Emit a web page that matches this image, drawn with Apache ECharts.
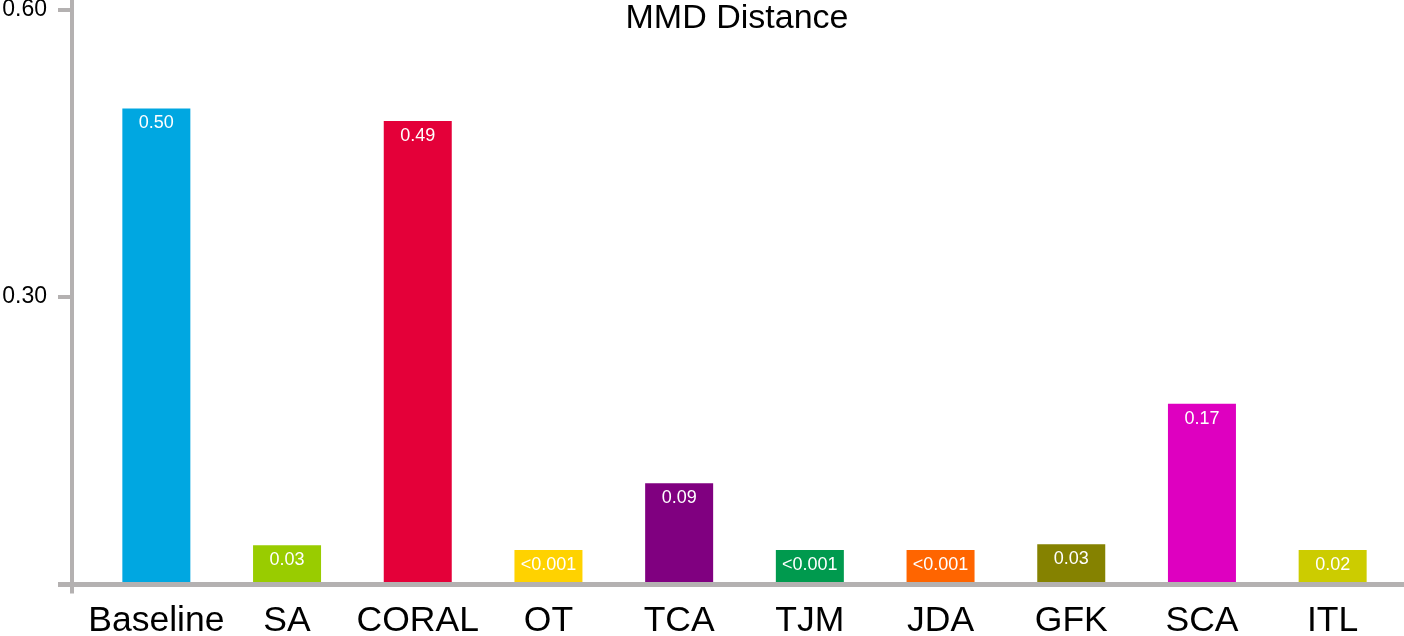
<!DOCTYPE html>
<html><head><meta charset="utf-8">
<script src="https://cdn.jsdelivr.net/npm/echarts@6/dist/echarts.min.js"></script>
<style>html,body{margin:0;padding:0;background:#fff;overflow:hidden}#c{width:1404px;height:636px}</style>
</head><body><div id="c"></div>
<script>
const categories = ['Baseline','SA','CORAL','OT','TCA','TJM','JDA','GFK','SCA','ITL'];
const values = [0.497, 0.040, 0.484, 0.035, 0.105, 0.035, 0.035, 0.041, 0.188, 0.035];
const labels = ['0.50','0.03','0.49','<0.001','0.09','<0.001','<0.001','0.03','0.17','0.02'];
const colors = ['#00a7e1','#99cc00','#e40039','#ffd200','#800080','#009a4e','#ff6500','#858200','#de00c0','#cccc00'];
const yTicks = [0, 0.3, 0.6];

const FONT = '"Liberation Sans", Arial, Helvetica, sans-serif';
const AXIS = '#b4b1b1';
const chart = echarts.init(document.getElementById('c'));
chart.setOption({
  animation: false,
  textStyle: {fontFamily: FONT},
  title: {text: 'MMD Distance', left: 732, textAlign: 'center', top: -3,
    textStyle: {fontFamily: FONT, fontSize: 34, fontWeight: 'normal', color: '#000'}},
  grid: {left: 91, top: 10, width: 1307, height: 573.5, containLabel: false, outerBoundsMode: 'none'},
  xAxis: {type: 'category', data: categories,
    axisLine: {show: false}, axisTick: {show: false},
    axisLabel: {color: '#000', fontSize: 35.5, margin: 20, interval: 0, fontFamily: FONT}},
  yAxis: {type: 'value', min: yTicks[0], max: yTicks[2], interval: 0.3, offset: 19,
    splitLine: {show: false},
    axisLine: {show: false},
    axisTick: {show: true, length: 14, lineStyle: {color: AXIS, width: 4}},
    axisLabel: {color: '#000', fontSize: 23, margin: 25, fontFamily: FONT,
      formatter: v => v === 0 ? '' : v.toFixed(2)}},
  series: [{type: 'bar', barWidth: 68,
    data: values.map((v, i) => ({value: v, itemStyle: {color: colors[i]}})),
    label: {show: true, position: 'insideTop', distance: 6, color: '#fff', fontSize: 18, fontFamily: FONT,
      formatter: p => labels[p.dataIndex]}}]
});
const y0 = chart.convertToPixel({yAxisIndex: 0}, 0);
chart.setOption({graphic: [
  {type: 'line', shape: {x1: 72, y1: 0, x2: 72, y2: y0 + 10}, style: {stroke: AXIS, lineWidth: 4}, z: 10},
  {type: 'line', shape: {x1: 58, y1: y0 + 1, x2: 1404, y2: y0 + 1}, style: {stroke: AXIS, lineWidth: 5}, z: 10}
]});
</script></body></html>
